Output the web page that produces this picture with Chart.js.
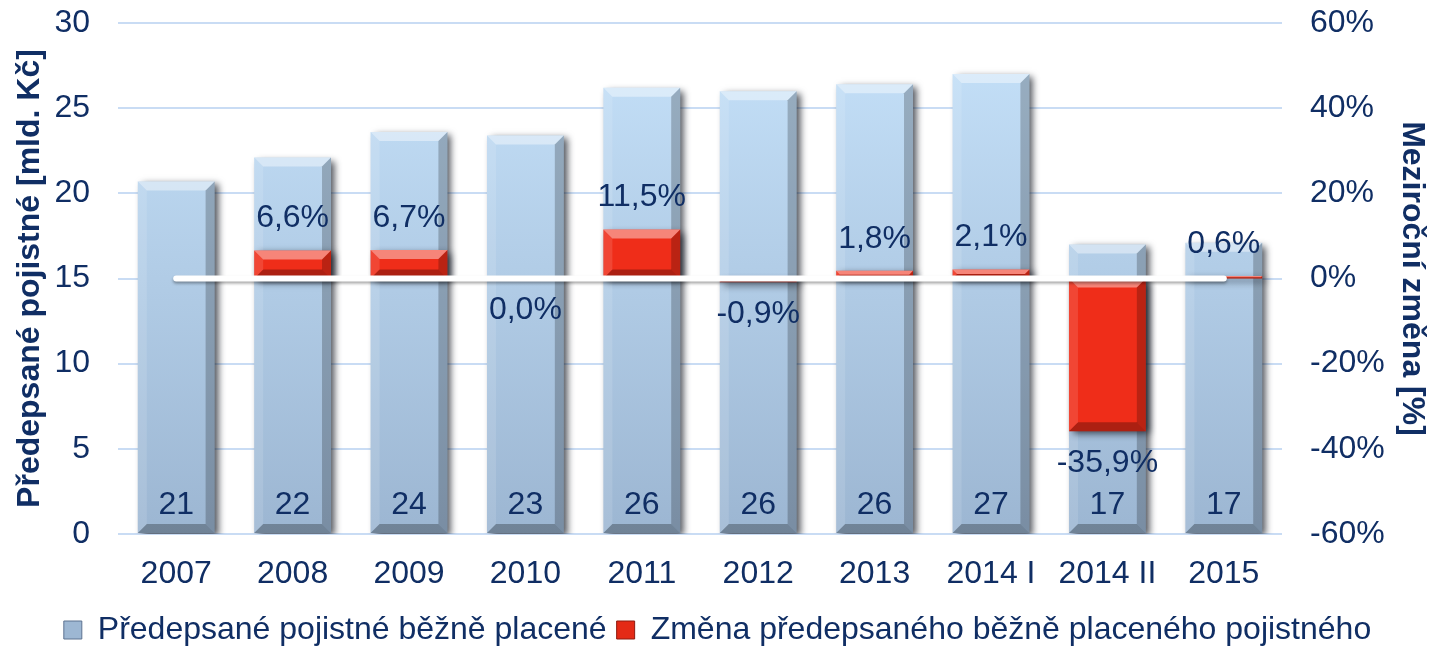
<!DOCTYPE html>
<html>
<head>
<meta charset="utf-8">
<script src="https://cdn.jsdelivr.net/npm/chart.js@4.4.1/dist/chart.umd.min.js"></script>
<style>
  html, body { margin: 0; padding: 0; background: #fff; }
  #wrap { width: 1435px; height: 647px; position: relative; }
</style>
</head>
<body>
<div id="wrap"><canvas id="chart"></canvas></div>
<script>
// data
const years = ['2007', '2008', '2009', '2010', '2011', '2012', '2013', '2014 I', '2014 II', '2015'];
const premiums = [20.7, 22.1, 23.6, 23.4, 26.2, 26.0, 26.4, 27.0, 17.0, 17.1]; // mld. Kč
const changes = [null, 6.6, 6.7, 0.0, 11.5, -0.9, 1.8, 2.1, -35.9, 0.6];      // %
const zeroLine = [0, 0, 0, 0, 0, 0, 0, 0, 0, 0];
const leftTicks = [0, 5, 10, 15, 20, 25, 30];
const rightTicks = [-60, -40, -20, 0, 20, 40, 60];

const navy = '#102E64';
const font = 'Liberation Sans, Arial, sans-serif';
const fs = 32;

function fmtPct(v) {
  return v.toFixed(1).replace('.', ',') + '%';
}

function blueFill(c) {
  const area = c.chart.chartArea;
  if (!area) return '#B3CEEA';
  const g = c.chart.ctx.createLinearGradient(0, area.top, 0, area.bottom);
  g.addColorStop(0, '#C6E2FA');
  g.addColorStop(1, '#9CB6D2');
  return g;
}

function poly(ctx, pts, color) {
  ctx.beginPath();
  ctx.moveTo(pts[0][0], pts[0][1]);
  for (let i = 1; i < pts.length; i++) ctx.lineTo(pts[i][0], pts[i][1]);
  ctx.closePath();
  ctx.fillStyle = color;
  ctx.fill();
}

// shadow + bevel look of the office bars
const bevelPlugin = {
  id: 'bevel',
  beforeDatasetDraw(chart, args) {
    const ctx = chart.ctx;
    ctx.save();
    if (args.meta.type === 'line') {
      ctx.shadowColor = 'rgba(0,0,0,0.35)';
      ctx.shadowBlur = 3;
      ctx.shadowOffsetY = 2;
    } else {
      ctx.shadowColor = 'rgba(20,25,35,0.75)';
      ctx.shadowBlur = 7;
      ctx.shadowOffsetX = 4;
      ctx.shadowOffsetY = 3;
    }
  },
  afterDatasetDraw(chart, args) {
    const ctx = chart.ctx;
    ctx.restore();
    if (args.meta.type !== 'bar') return;
    const data = chart.data.datasets[args.index].data;
    ctx.save();
    args.meta.data.forEach((bar, i) => {
      if (data[i] == null) return;
      const p = bar.getProps(['x', 'y', 'base', 'width'], true);
      const l = p.x - p.width / 2, r = p.x + p.width / 2;
      const t = Math.min(p.y, p.base), b = Math.max(p.y, p.base);
      const h = b - t;
      if (h < 2) return;
      const s = Math.min(9, h / 2);
      poly(ctx, [[l, t], [r, t], [r - s, t + s], [l + s, t + s]], 'rgba(255,255,255,0.42)');
      poly(ctx, [[l, t], [l + s, t + s], [l + s, b - s], [l, b]], 'rgba(255,255,255,0.12)');
      poly(ctx, [[r, t], [r - s, t + s], [r - s, b - s], [r, b]], 'rgba(0,0,0,0.22)');
      poly(ctx, [[l, b], [l + s, b - s], [r - s, b - s], [r, b]], 'rgba(0,0,0,0.28)');
    });
    ctx.restore();
  }
};

// value labels
const labelPlugin = {
  id: 'valueLabels',
  afterDatasetsDraw(chart) {
    const ctx = chart.ctx;
    ctx.save();
    ctx.font = fs + 'px ' + font;
    ctx.fillStyle = navy;
    ctx.textAlign = 'center';
    ctx.textBaseline = 'middle';
    const blue = chart.getDatasetMeta(0);
    blue.data.forEach((bar, i) => {
      ctx.fillText(String(Math.round(premiums[i])), bar.x, bar.base - 28);
    });
    const red = chart.getDatasetMeta(1);
    red.data.forEach((bar, i) => {
      const v = changes[i];
      if (v == null) return;
      const y = v > 0 ? bar.y - 32 : bar.y + 32;
      ctx.fillText(fmtPct(v), bar.x, y);
    });
    ctx.restore();
  }
};

function fixPad(s) {
  s.paddingTop = 23;
  s.paddingBottom = 0;
}

new Chart(document.getElementById('chart'), {
  data: {
    labels: years,
    datasets: [
      {
        type: 'bar',
        label: 'Předepsané pojistné běžně placené',
        data: premiums,
        yAxisID: 'y',
        backgroundColor: blueFill,
        grouped: false,
        barPercentage: 0.66,
        categoryPercentage: 1,
        order: 2
      },
      {
        type: 'bar',
        label: 'Změna předepsaného běžně placeného pojistného',
        data: changes,
        yAxisID: 'y1',
        backgroundColor: '#EF2D19',
        grouped: false,
        barPercentage: 0.66,
        categoryPercentage: 1,
        order: 1
      },
      {
        type: 'line',
        label: 'nula',
        data: zeroLine,
        yAxisID: 'y1',
        borderColor: '#FFFFFF',
        borderWidth: 6,
        borderCapStyle: 'round',
        pointRadius: 0,
        order: 0
      }
    ]
  },
  options: {
    responsive: true,
    maintainAspectRatio: false,
    animation: false,
    layout: { padding: { top: 0, left: 0, right: 0, bottom: -9 } },
    plugins: {
      tooltip: { enabled: false },
      legend: {
        position: 'bottom',
        labels: {
          color: navy,
          font: { family: font, size: fs },
          boxWidth: 18,
          boxHeight: 18,
          padding: 10,
          generateLabels() {
            return [
              { text: 'Předepsané pojistné běžně placené', fillStyle: '#9DB7D3', strokeStyle: '#5D7290', lineWidth: 1, fontColor: navy, datasetIndex: 0 },
              { text: 'Změna předepsaného běžně placeného pojistného', fillStyle: '#E42A16', strokeStyle: '#8E1A0E', lineWidth: 1, fontColor: navy, datasetIndex: 1 }
            ];
          }
        }
      }
    },
    scales: {
      x: {
        grid: { display: false },
        border: { display: false },
        ticks: { color: navy, font: { family: font, size: fs }, padding: 13 },
        afterFit(s) { s.height = 70; }
      },
      y: {
        position: 'left',
        min: leftTicks[0],
        max: leftTicks[leftTicks.length - 1],
        afterBuildTicks(s) { s.ticks = leftTicks.map(v => ({ value: v })); },
        grid: { color: '#C9DCF4', lineWidth: 2, drawTicks: false },
        border: { display: false },
        ticks: { color: navy, font: { family: font, size: fs }, padding: 28 },
        title: {
          display: true,
          text: 'Předepsané pojistné [mld. Kč]',
          color: navy,
          font: { family: font, size: fs, weight: 'bold' },
          padding: { top: 11, bottom: 0 }
        },
        afterFit(s) { s.width = 118; fixPad(s); }
      },
      y1: {
        position: 'right',
        min: rightTicks[0],
        max: rightTicks[rightTicks.length - 1],
        afterBuildTicks(s) { s.ticks = rightTicks.map(v => ({ value: v })); },
        grid: { display: false, drawTicks: false },
        border: { display: false },
        ticks: { color: navy, font: { family: font, size: fs }, padding: 28, callback: v => v + '%' },
        title: {
          display: true,
          text: 'Meziroční změna [%]',
          color: navy,
          font: { family: font, size: fs, weight: 'bold' },
          padding: { top: 4, bottom: 0 }
        },
        afterFit(s) { s.width = 153; fixPad(s); }
      }
    }
  },
  plugins: [bevelPlugin, labelPlugin]
});
</script>
</body>
</html>
